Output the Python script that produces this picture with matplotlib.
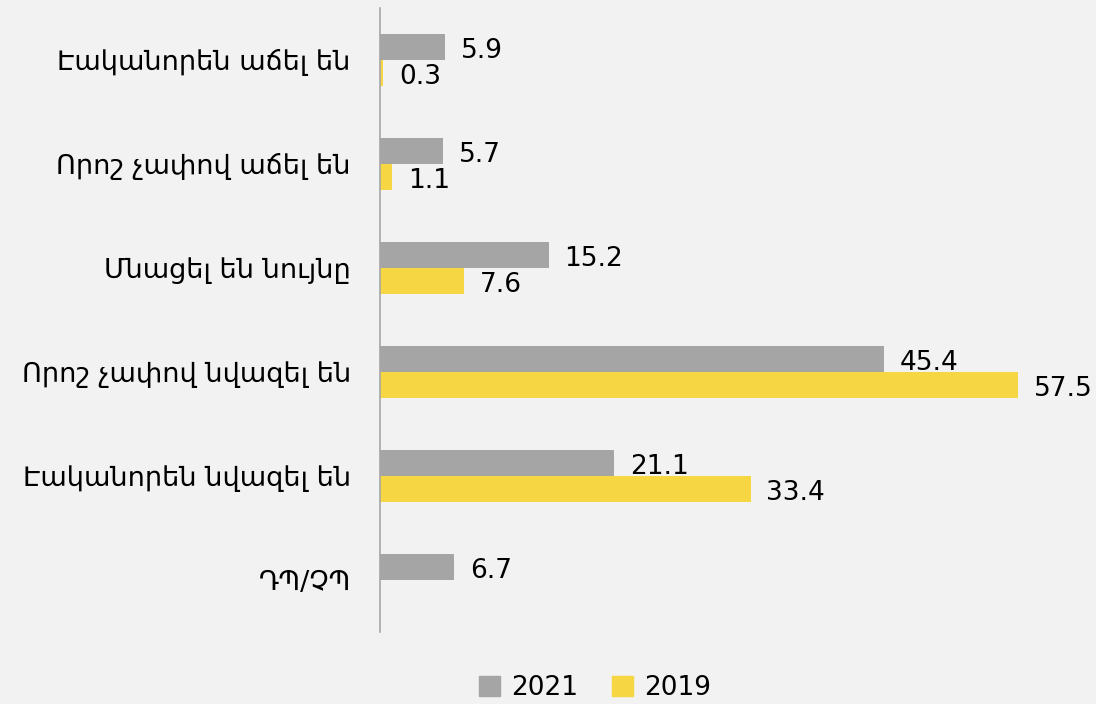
import numpy as np
import matplotlib.pyplot as plt
from matplotlib.patches import Patch

categories = [
    "Էականորեն աճել են",
    "Որոշ չափով աճել են",
    "Մնացել են նույնը",
    "Որոշ չափով նվազել են",
    "Էականորեն նվազել են",
    "ԴՊ/ՉՊ",
]
vals_2021 = [5.9, 5.7, 15.2, 45.4, 21.1, 6.7]
vals_2019 = [0.3, 1.1, 7.6, 57.5, 33.4, np.nan]

C_GRAY = "#a5a5a5"
C_YELLOW = "#f6d743"
BG = "#f2f2f2"

plt.rcParams["font.family"] = ["DejaVu Sans"]

fig = plt.figure(figsize=(10.96, 7.04), dpi=100, facecolor=BG)
ax = fig.add_axes([380 / 1096, 1 - 632 / 704, (1046 - 380) / 1096, 624 / 704])
ax.set_facecolor(BG)

y = np.arange(len(categories))
h = 0.25
ax.barh(y - h / 2, vals_2021, height=h, color=C_GRAY, label="2021")
ax.barh(y + h / 2, np.nan_to_num(vals_2019), height=h, color=C_YELLOW, label="2019")

fs = 19
dy = 0.035  # nudge value labels slightly below bar centre
for yi, v in zip(y, vals_2021):
    ax.text(v + 1.4, yi - h / 2 + dy, f"{v:.1f}", va="center", ha="left", fontsize=fs)
for yi, v in zip(y, vals_2019):
    if np.isnan(v):
        continue
    ax.text(v + 1.4, yi + h / 2 + dy, f"{v:.1f}", va="center", ha="left", fontsize=fs)

ax.set_xlim(0, 60)
ax.set_ylim(len(categories) - 0.5, -0.5)
ax.set_yticks(y)
ax.set_yticklabels(categories, fontsize=19.5)
ax.tick_params(axis="y", length=0, pad=21)
ax.set_xticks([])
for s in ["top", "right", "bottom"]:
    ax.spines[s].set_visible(False)
ax.spines["left"].set_color("#a6a6a6")
ax.spines["left"].set_linewidth(1.2)

handles = [Patch(color=C_GRAY, label="2021"), Patch(color=C_YELLOW, label="2019")]
fig.legend(handles=handles, loc="lower center", bbox_to_anchor=(595 / 1096, -0.03),
           ncol=2, frameon=False, fontsize=fs, handlelength=0.8, handleheight=0.8,
           handletextpad=0.4, columnspacing=1.3)

fig.savefig("out.png", dpi=100, facecolor=BG)
